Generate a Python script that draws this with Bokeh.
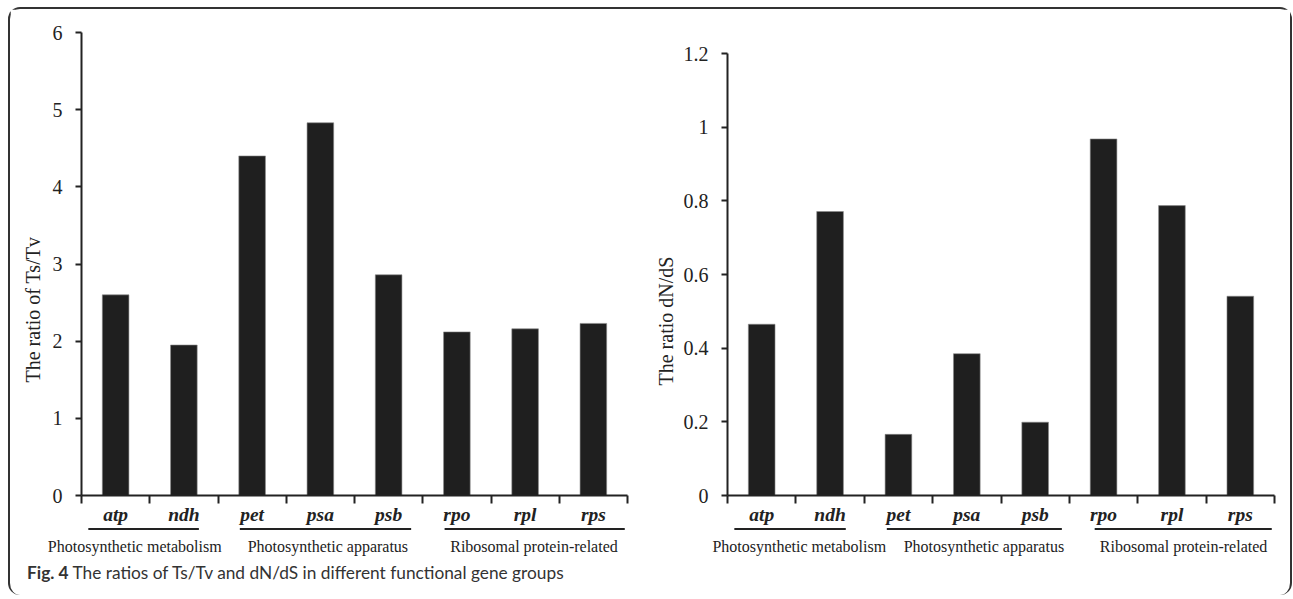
from bokeh.plotting import figure
from bokeh.layouts import column, row
from bokeh.models import (Range1d, FixedTicker, LinearAxis, Title, Div,
                          BasicTickFormatter)
from bokeh.embed import file_html
from bokeh.resources import INLINE

# ---------------- data ----------------
genes = ["atp", "ndh", "pet", "psa", "psb", "rpo", "rpl", "rps"]
ts_tv = [2.60, 1.95, 4.40, 4.83, 2.86, 2.12, 2.16, 2.23]
dn_ds = [0.465, 0.771, 0.166, 0.385, 0.199, 0.968, 0.787, 0.541]
groups = ["Photosynthetic metabolism", "Photosynthetic apparatus",
          "Ribosomal protein-related"]
group_members = [[0, 1], [2, 3, 4], [5, 6, 7]]
left_ticks = [0, 1, 2, 3, 4, 5, 6]
right_ticks = [0, 0.2, 0.4, 0.6, 0.8, 1.0, 1.2]
caption_bold = "Fig. 4"
caption_text = "The ratios of Ts/Tv and dN/dS in different functional gene groups"

# ---------------- styling / layout ----------------
SERIF = "Liberation Serif"
INK = "#222222"
BAR = "#1f1f1f"
AXIS_PANEL = 32
GROUP_FRAME = 4
GROUP_BELOW = 26

n = len(genes)
centers = [i + 0.5 for i in range(n)]


def make_chart(vals, yticks, ylabel, top_border, frame_h, left_border,
               right_border, frame_w, label_offset, label_standoff):
    p = figure(width=left_border + frame_w + right_border,
               height=top_border + frame_h + AXIS_PANEL,
               frame_width=frame_w, frame_height=frame_h,
               min_border_left=left_border, min_border_right=right_border,
               min_border_top=top_border, min_border_bottom=AXIS_PANEL,
               x_range=Range1d(0, n), y_range=Range1d(yticks[0], yticks[-1]),
               x_axis_location=None, y_axis_location=None,
               toolbar_location=None, output_backend="svg")
    p.outline_line_color = None
    p.grid.visible = False
    p.background_fill_color = "white"
    p.border_fill_color = "white"

    p.vbar(x=centers, top=vals, width=0.39, bottom=0,
           fill_color=BAR, line_color="#8a8a8a", line_width=0.6)

    # y axis
    ya = LinearAxis(ticker=FixedTicker(ticks=yticks, minor_ticks=[]))
    if isinstance(yticks[1], float):
        ya.formatter = BasicTickFormatter(precision=1)
        ya.major_label_overrides = {0: "0", 1: "1"}
    ya.axis_line_width = 2
    ya.axis_line_color = INK
    ya.major_tick_line_width = 2
    ya.major_tick_line_color = INK
    ya.major_tick_in = 0
    ya.major_tick_out = 6
    ya.minor_tick_line_color = None
    ya.major_label_standoff = 13
    ya.major_label_text_font = SERIF
    ya.major_label_text_font_size = "20px"
    ya.major_label_text_color = INK
    p.add_layout(ya, "left")

    t = Title(text=ylabel, align="left", offset=label_offset,
              text_font=SERIF, text_font_size="20px",
              text_font_style="normal", text_color=INK,
              standoff=label_standoff)
    p.add_layout(t, "left")

    # x axis: boundary ticks (minor) + centred gene labels (major)
    xa = LinearAxis(ticker=FixedTicker(ticks=centers,
                                       minor_ticks=list(range(n + 1))))
    xa.major_label_overrides = {c: g for c, g in zip(centers, genes)}
    xa.axis_line_width = 2
    xa.axis_line_color = INK
    xa.major_tick_line_color = None
    xa.major_tick_in = 0
    xa.major_tick_out = 5
    xa.minor_tick_line_color = INK
    xa.minor_tick_line_width = 2
    xa.minor_tick_in = 0
    xa.minor_tick_out = 8
    xa.major_label_standoff = 0
    xa.major_label_text_font = SERIF
    xa.major_label_text_font_style = "bold italic"
    xa.major_label_text_font_size = "19.5px"
    xa.major_label_text_color = INK
    p.add_layout(xa, "below")
    return p


def make_groups(p, left_border, right_border, frame_w, starts, ends, shifts):
    g = figure(width=left_border + frame_w + right_border,
               height=GROUP_FRAME + GROUP_BELOW,
               frame_width=frame_w, frame_height=GROUP_FRAME,
               min_border_left=left_border, min_border_right=right_border,
               min_border_top=0, min_border_bottom=GROUP_BELOW,
               x_range=p.x_range, y_range=Range1d(0, 1),
               x_axis_location=None, y_axis_location=None,
               toolbar_location=None, output_backend="svg")
    g.outline_line_color = None
    g.grid.visible = False
    g.background_fill_color = "white"
    g.border_fill_color = "white"
    # underlines of each functional group
    x0 = [m[0] + s for m, s in zip(group_members, starts)]
    x1 = [m[-1] + 1 - e for m, e in zip(group_members, ends)]
    g.segment(x0=x0, y0=[0.6] * 3, x1=x1, y1=[0.6] * 3,
              line_width=2, line_color=INK)
    # group names as an axis below the underlines
    xc = [sum(centers[i] for i in m) / len(m) + s
          for m, s in zip(group_members, shifts)]
    ga = LinearAxis(ticker=FixedTicker(ticks=xc, minor_ticks=[]))
    ga.major_label_overrides = {c: name for c, name in zip(xc, groups)}
    ga.axis_line_color = None
    ga.major_tick_line_color = None
    ga.minor_tick_line_color = None
    ga.major_tick_in = 0
    ga.major_tick_out = 0
    ga.major_label_standoff = 6
    ga.major_label_text_font = SERIF
    ga.major_label_text_font_size = "16px"
    ga.major_label_text_color = INK
    g.add_layout(ga, "below")
    return g


p1 = make_chart(ts_tv, left_ticks, "The ratio of Ts/Tv", 23, 463, 71, 20, 546,
                113, 11)
g1 = make_groups(p1, 71, 20, 546, [0.10, 0.32, 0.32], [0.28, 0.17, 0.04],
                 [-0.22, 0.11, 0.13])
p2 = make_chart(dn_ds, right_ticks, "The ratio dN/dS", 44, 442, 80, 16, 547,
                110, 8)
g2 = make_groups(p2, 80, 16, 547, [0.10, 0.33, 0.37], [0.27, 0.11, 0.04],
                 [0.05, 0.25, 0.17])

cap = Div(text=f"<b>{caption_bold}</b> {caption_text}", width=1200, height=28,
          styles={"font-family": "Lato", "font-size": "17.3px", "color": "#333",
                  "padding-left": "12px", "line-height": "22px"})

layout = column(row(column(p1, g1), column(p2, g2)), cap,
                styles={"border": "2px solid #333", "border-bottom": "none",
                        "border-radius": "12px", "background": "white",
                        "margin-left": "8px", "margin-top": "7px"})

open("out.html", "w").write(file_html(layout, INLINE))
